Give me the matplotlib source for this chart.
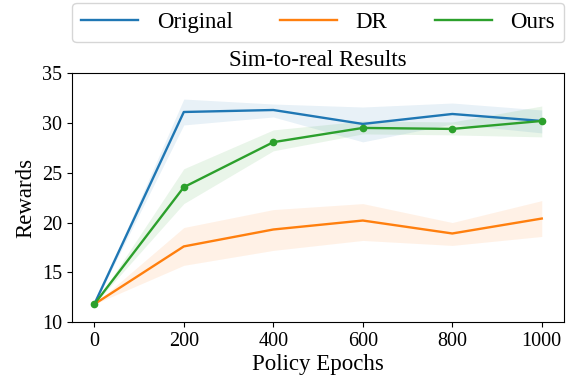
import matplotlib
matplotlib.use("Agg")
import matplotlib.pyplot as plt
from matplotlib.lines import Line2D

plt.rcParams['font.family'] = ['Liberation Serif', 'DejaVu Serif']

epochs = [0, 200, 400, 600, 800, 1000]
orig = [11.8, 31.1, 31.3, 29.9, 30.9, 30.2]
orig_lo = [11.8, 29.8, 30.6, 28.1, 29.9, 29.0]
orig_hi = [11.8, 32.4, 31.9, 31.6, 32.0, 31.3]
dr = [11.8, 17.6, 19.3, 20.2, 18.9, 20.4]
dr_lo = [11.8, 15.7, 17.2, 18.2, 17.7, 18.6]
dr_hi = [11.8, 19.5, 21.3, 21.9, 20.0, 22.2]
ours = [11.8, 23.55, 28.07, 29.5, 29.4, 30.2]
ours_lo = [11.8, 21.9, 27.2, 28.9, 28.8, 28.6]
ours_hi = [11.8, 25.4, 29.3, 30.2, 30.1, 31.7]
labels = ['Original', 'DR', 'Ours']

fig = plt.figure(figsize=(5.71, 3.83), dpi=100)
ax = fig.add_axes([0.126, 0.159, 0.862, 0.650])

c1, c2, c3 = '#1f77b4', '#ff7f0e', '#2ca02c'
ax.plot(epochs, orig, color=c1, lw=1.7)
ax.fill_between(epochs, orig_lo, orig_hi, color=c1, alpha=0.1, lw=0)
ax.plot(epochs, dr, color=c2, lw=1.7)
ax.fill_between(epochs, dr_lo, dr_hi, color=c2, alpha=0.1, lw=0)
ax.plot(epochs, ours, color=c3, lw=1.7, marker='o', ms=4.5)
ax.fill_between(epochs, ours_lo, ours_hi, color=c3, alpha=0.1, lw=0)

ax.set_xlim(-50, 1050)
ax.set_ylim(10, 35)
ax.set_xticks(epochs)
ax.set_yticks([10, 15, 20, 25, 30, 35])
ax.tick_params(labelsize=14.5)
ax.set_xlabel('Policy Epochs', fontsize=16.5, labelpad=2)
ax.set_ylabel('Rewards', fontsize=16.5)
ax.set_title('Sim-to-real Results', fontsize=16.5, pad=5)

handles = [Line2D([], [], color=c, lw=1.7) for c in (c1, c2, c3)]
ax.legend(handles=handles, labels=labels, loc='lower left',
          bbox_to_anchor=(0, 1.124, 1, 0.1), mode='expand', borderaxespad=0,
          ncol=3, fontsize=16.5, frameon=True, fancybox=True,
          handlelength=2.5, handletextpad=0.8)

fig.savefig('out.png', dpi=100)
